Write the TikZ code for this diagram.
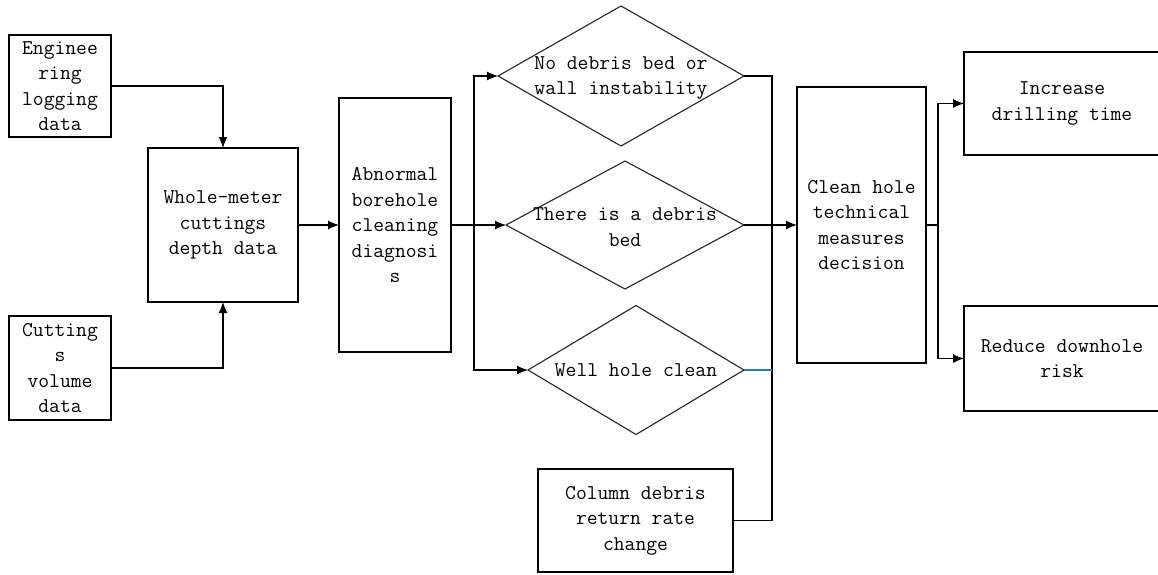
\documentclass[tikz,border=0pt]{standalone}
\usepackage{fontspec}
\usetikzlibrary{shapes.geometric,arrows.meta}
\definecolor{busblue}{RGB}{46,117,182}
\begin{document}
\begin{tikzpicture}[x=1pt,y=-1pt,
  every node/.style={font=\ttfamily\fontsize{21}{25.5}\selectfont, align=center, inner sep=0pt, outer sep=0pt},
  boxnode/.style={draw, line width=1.2pt, minimum width=#1},
  dianode/.style={draw, diamond, line width=1.1pt, black!85},
  conn/.style={line width=1.2pt},
  arr/.style={conn, -{Latex[length=11pt,width=9pt]}}]
\useasboundingbox (0,0) rectangle (1158,574);
\clip (0,0) rectangle (1158,574);
\fill[white] (0,0) rectangle (1158,574);

\node[boxnode=102pt, minimum height=102pt] (eng) at (60,86) {Enginee\\ring\\logging\\data};
\node[boxnode=102pt, minimum height=104pt] (cut) at (60,368) {Cutting\\s\\volume\\data};
\node[boxnode=150pt, minimum height=154pt] (whole) at (223,225) {Whole-meter\\cuttings\\depth data};
\node[boxnode=112pt, minimum height=254pt] (abn) at (395,225) {Abnormal\\borehole\\cleaning\\diagnosi\\s};

\node[dianode, minimum width=246pt, minimum height=140pt] (d1) at (621,76) {};
\node (t1) at (621,78) {No debris bed or\\wall instability};
\node[dianode, minimum width=238pt, minimum height=128pt] (d2) at (625,225) {};
\node (t2) at (625,227) {There is a debris\\bed};
\node[dianode, minimum width=216pt, minimum height=129pt] (d3) at (636,370) {};
\node (t3) at (636,370) {Well hole clean};

\node[boxnode=195pt, minimum height=103pt] (col) at (635.5,520.5) {Column debris\\return rate\\change};
\node[boxnode=129pt, minimum height=276pt] (clean) at (861.5,225) {Clean hole\\technical\\measures\\decision};
\node[boxnode=196pt, minimum height=103pt] (inc) at (1062,103.5) {Increase\\drilling time};
\node[boxnode=196pt, minimum height=105pt] (red) at (1062,358.5) {Reduce downhole\\risk};

\coordinate (s1) at (474,225);
\coordinate (bus) at (772,225);
\coordinate (s2) at (938,225);

\draw[arr] (eng.east) -| (whole.north);
\draw[arr] (cut.east) -| (whole.south);
\draw[arr] (whole.east) -- (whole.east -| abn.west);
\draw[arr] (abn.east) -- (d2.west);
\draw[arr] (s1) |- (d1.west);
\draw[arr] (s1) |- (d3.west);
\draw[conn] (d1.east) -| (bus);
\draw[conn] (col.east) -| (bus);
\draw[line width=1.2pt, busblue] (d3.east) -- (d3.east -| bus);
\draw[arr] (d2.east) -- (clean.west);
\draw[conn] (clean.east) -- (s2);
\draw[arr] (s2) |- (inc.west);
\draw[arr] (s2) |- (red.west);
\end{tikzpicture}
\end{document}
